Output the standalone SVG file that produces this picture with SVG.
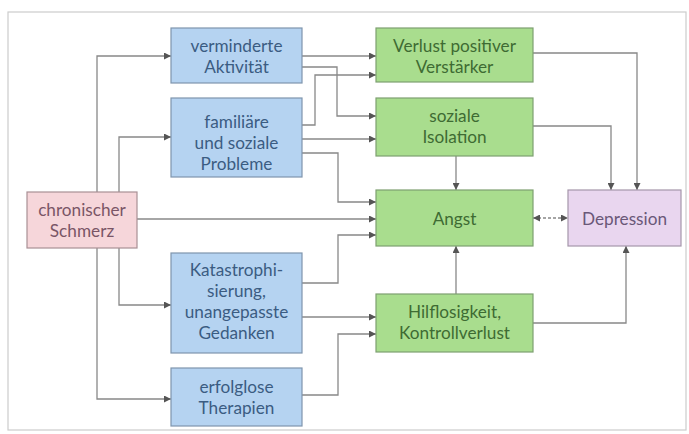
<svg xmlns="http://www.w3.org/2000/svg" width="689" height="434" viewBox="0 0 689 434">
<defs>
<marker id="ah" viewBox="0 0 10 10" refX="10" refY="5" markerWidth="8" markerHeight="7" markerUnits="userSpaceOnUse" orient="auto-start-reverse">
<path d="M0,0 L10,5 L0,10 z" fill="#555"/>
</marker>
<style>
text{font-family:Lato,"Liberation Sans",sans-serif;font-size:17.2px;text-anchor:middle}
.b rect{fill:#b5d3f1;stroke:#7f95ad;stroke-width:1.2}
.b text{fill:#3b5c82}
.g rect{fill:#a9dd8e;stroke:#7ea070;stroke-width:1.2}
.g text{fill:#3e6b33}
.p rect{fill:#f6d6da;stroke:#a99095;stroke-width:1.2}
.p text{fill:#7a5566}
.v rect{fill:#e9d6ef;stroke:#a596aa;stroke-width:1.2}
.v text{fill:#6a5878}
.c path{fill:none;stroke:#888;stroke-width:1.3;marker-end:url(#ah)}
</style>
</defs>
<rect x="0" y="0" width="689" height="434" fill="#fff"/>
<rect x="8" y="12" width="678" height="418" fill="none" stroke="#ccc" stroke-width="1.2"/>
<g class="c" id="connectors">
<path d="M97,192 V56 H171"/>
<path d="M119,192 V137 H171"/>
<path d="M137,219 H376"/>
<path d="M97,248 V399 H171"/>
<path d="M119,248 V305 H171"/>
<path d="M302,56 H376"/>
<path d="M302,67 H337 V116 H376"/>
<path d="M302,125 H315 V75 H376"/>
<path d="M302,139 H376"/>
<path d="M302,153 H338 V202 H376"/>
<path d="M302,283 H338 V235 H376"/>
<path d="M302,317 H376"/>
<path d="M302,395 H338 V334 H376"/>
<path d="M533,53 H637 V190"/>
<path d="M533,126 H611 V190"/>
<path d="M456,156 V190"/>
<path d="M456,294 V246"/>
<path d="M533,323 H626 V246"/>
<path d="M533,218 H568" stroke-dasharray="3 2" style="marker-start:url(#ah)"/>
</g>
<g id="schmerz" class="p"><rect x="27" y="192" width="110" height="56"/><text x="82" y="216">chronischer</text><text x="82" y="237">Schmerz</text></g>
<g id="aktivitaet" class="b"><rect x="171" y="28" width="131" height="55"/><text x="236.5" y="52">verminderte</text><text x="236.5" y="73">Aktivität</text></g>
<g id="probleme" class="b"><rect x="171" y="98" width="131" height="79"/><text x="236.5" y="128">familiäre</text><text x="236.5" y="149">und soziale</text><text x="236.5" y="170">Probleme</text></g>
<g id="katastroph" class="b"><rect x="171" y="253" width="131" height="100"/><text x="236.5" y="276">Katastrophi-</text><text x="236.5" y="297">sierung,</text><text x="236.5" y="318">unangepasste</text><text x="236.5" y="339">Gedanken</text></g>
<g id="therapien" class="b"><rect x="171" y="368" width="131" height="58"/><text x="236.5" y="393">erfolglose</text><text x="236.5" y="414">Therapien</text></g>
<g id="verlust" class="g"><rect x="376" y="28" width="157" height="54"/><text x="454.5" y="52">Verlust positiver</text><text x="454.5" y="73">Verstärker</text></g>
<g id="isolation" class="g"><rect x="376" y="98" width="157" height="58"/><text x="454.5" y="122">soziale</text><text x="454.5" y="143">Isolation</text></g>
<g id="angst" class="g"><rect x="376" y="190" width="157" height="56"/><text x="454.5" y="225">Angst</text></g>
<g id="hilflos" class="g"><rect x="376" y="294" width="157" height="58"/><text x="454.5" y="318">Hilflosigkeit,</text><text x="454.5" y="339">Kontrollverlust</text></g>
<g id="depression" class="v"><rect x="568" y="190" width="113" height="56"/><text x="624.5" y="225">Depression</text></g>
</svg>
